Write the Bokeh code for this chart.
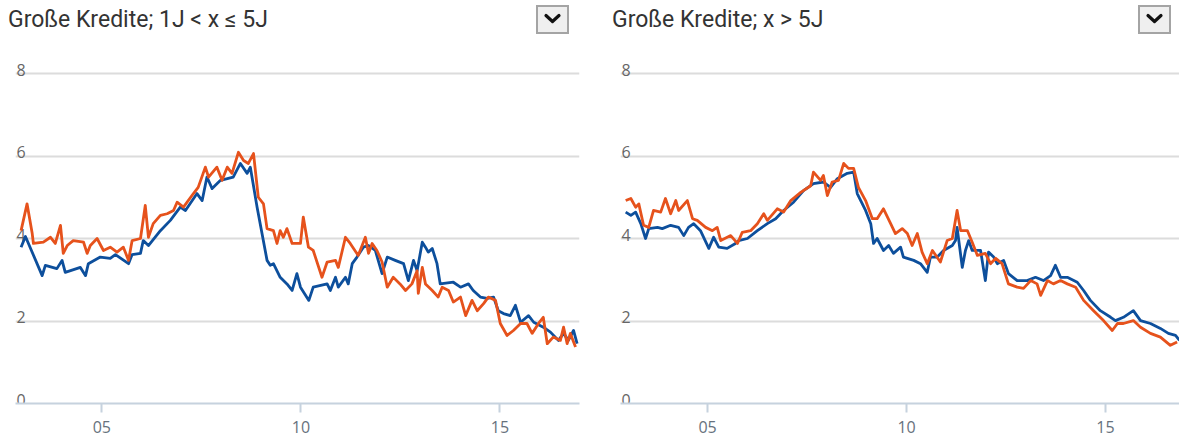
import html
from bokeh.plotting import figure
from bokeh.layouts import row, column
from bokeh.models import Div, FixedTicker, Range1d, Spacer
from bokeh.core.properties import value
from bokeh.embed import file_html
from bokeh.resources import INLINE

# ---------------- data ----------------
left_title = "Große Kredite; 1J < x ≤ 5J"
right_title = "Große Kredite; x > 5J"

ytick_values = [0, 2, 4, 6, 8]
ytick_labels = ["0", "2", "4", "6", "8"]
xtick_years = [2005, 2010, 2015]
xtick_labels = ["05", "10", "15"]

# left panel, blue series
left_blue_t = [2002.97, 2003.08, 2003.50, 2003.58, 2003.87, 2004.00, 2004.08, 2004.46, 2004.59, 2004.66,
               2004.96, 2005.21, 2005.34, 2005.67, 2005.76, 2005.97, 2006.04, 2006.17, 2006.47, 2006.72,
               2006.97, 2007.10, 2007.39, 2007.52, 2007.64, 2007.77, 2007.98, 2008.30, 2008.48, 2008.65,
               2008.73, 2008.90, 2009.15, 2009.23, 2009.31, 2009.48, 2009.65, 2009.78, 2009.90, 2009.99,
               2010.20, 2010.31, 2010.66, 2010.74, 2010.87, 2010.94, 2011.12, 2011.19, 2011.29, 2011.41,
               2011.57, 2011.70, 2011.87, 2012.04, 2012.17, 2012.37, 2012.58, 2012.70, 2012.83, 2012.92,
               2013.05, 2013.13, 2013.20, 2013.30, 2013.42, 2013.50, 2013.83, 2014.01, 2014.21, 2014.33,
               2014.51, 2014.68, 2014.84, 2014.96, 2015.09, 2015.26, 2015.39, 2015.52, 2015.72, 2015.85,
               2016.09, 2016.27, 2016.47, 2016.60, 2016.72, 2016.85, 2016.94]
left_blue_v = [3.79, 4.05, 3.10, 3.35, 3.27, 3.47, 3.18, 3.30, 3.10, 3.39,
               3.55, 3.52, 3.61, 3.39, 3.61, 3.64, 3.95, 3.83, 4.19, 4.44,
               4.76, 4.68, 5.09, 4.92, 5.49, 5.21, 5.41, 5.49, 5.82, 5.58,
               5.73, 4.76, 3.47, 3.35, 3.39, 3.06, 2.90, 2.74, 3.15, 2.82,
               2.50, 2.82, 2.90, 2.74, 3.06, 2.82, 3.06, 2.90, 3.39, 3.55,
               3.79, 3.83, 3.71, 3.15, 3.55, 3.47, 3.39, 2.98, 3.47, 3.22,
               3.91, 3.79, 3.67, 3.76, 3.39, 2.90, 2.94, 2.82, 2.90, 2.74,
               2.58, 2.55, 2.58, 2.25, 2.18, 2.13, 2.38, 1.97, 2.13, 1.97,
               1.85, 1.73, 1.53, 1.70, 1.53, 1.77, 1.45]

# left panel, orange series
left_orange_t = [2002.97, 2003.12, 2003.25, 2003.28, 2003.53, 2003.71, 2003.83, 2003.96, 2004.03, 2004.13,
                 2004.28, 2004.54, 2004.63, 2004.71, 2004.88, 2005.04, 2005.21, 2005.38, 2005.54, 2005.67,
                 2005.76, 2005.97, 2006.09, 2006.17, 2006.29, 2006.47, 2006.64, 2006.80, 2006.89, 2007.05,
                 2007.30, 2007.42, 2007.60, 2007.68, 2007.89, 2008.02, 2008.15, 2008.27, 2008.43, 2008.56,
                 2008.68, 2008.81, 2008.93, 2009.06, 2009.15, 2009.31, 2009.40, 2009.48, 2009.56, 2009.65,
                 2009.78, 2009.99, 2010.06, 2010.19, 2010.31, 2010.53, 2010.66, 2010.87, 2010.94, 2011.12,
                 2011.24, 2011.44, 2011.62, 2011.70, 2011.79, 2011.91, 2012.04, 2012.17, 2012.32, 2012.49,
                 2012.63, 2012.79, 2012.92, 2012.95, 2013.05, 2013.13, 2013.30, 2013.45, 2013.55, 2013.71,
                 2013.83, 2014.01, 2014.14, 2014.30, 2014.43, 2014.59, 2014.71, 2014.89, 2015.01, 2015.18,
                 2015.34, 2015.52, 2015.68, 2015.81, 2015.97, 2016.09, 2016.19, 2016.34, 2016.52, 2016.60,
                 2016.69, 2016.77, 2016.90]
left_orange_v = [4.19, 4.84, 4.12, 3.88, 3.91, 4.03, 3.88, 4.32, 3.64, 3.83,
                 3.95, 3.91, 3.64, 3.83, 4.00, 3.71, 3.79, 3.67, 3.79, 3.47,
                 3.95, 4.00, 4.80, 4.03, 4.36, 4.56, 4.60, 4.68, 4.88, 4.76,
                 5.09, 5.24, 5.73, 5.49, 5.73, 5.41, 5.73, 5.58, 6.09, 5.89,
                 5.82, 6.06, 5.00, 4.84, 4.24, 4.19, 3.88, 4.19, 4.03, 4.24,
                 3.88, 3.88, 4.52, 3.79, 3.71, 3.06, 3.43, 3.47, 3.30, 4.03,
                 3.88, 3.59, 4.03, 3.64, 3.88, 3.71, 3.43, 2.82, 3.06, 2.90,
                 2.74, 2.90, 3.22, 2.67, 3.30, 2.90, 2.74, 2.58, 2.82, 2.74,
                 2.46, 2.58, 2.13, 2.50, 2.25, 2.42, 2.58, 2.50, 1.94, 1.65,
                 1.77, 1.94, 1.94, 1.70, 1.94, 2.09, 1.45, 1.61, 1.53, 1.85,
                 1.45, 1.70, 1.37]

# right panel, blue series
right_blue_t = [2002.94, 2003.07, 2003.19, 2003.32, 2003.44, 2003.52, 2003.74, 2003.86, 2004.07, 2004.27,
                2004.40, 2004.52, 2004.65, 2004.82, 2005.03, 2005.15, 2005.28, 2005.49, 2005.70, 2005.78,
                2006.00, 2006.25, 2006.50, 2006.71, 2006.91, 2007.16, 2007.41, 2007.66, 2007.91, 2008.09,
                2008.26, 2008.51, 2008.67, 2008.76, 2008.97, 2009.10, 2009.17, 2009.26, 2009.42, 2009.55,
                2009.67, 2009.85, 2009.92, 2010.18, 2010.35, 2010.52, 2010.60, 2010.77, 2010.93, 2011.15,
                2011.23, 2011.27, 2011.40, 2011.48, 2011.56, 2011.65, 2011.86, 2011.98, 2012.06, 2012.19,
                2012.28, 2012.44, 2012.56, 2012.78, 2013.03, 2013.24, 2013.44, 2013.62, 2013.74, 2013.87,
                2014.04, 2014.29, 2014.45, 2014.62, 2014.87, 2015.13, 2015.25, 2015.45, 2015.70, 2015.88,
                2016.13, 2016.38, 2016.58, 2016.76, 2016.86]
right_blue_v = [4.64, 4.56, 4.64, 4.36, 4.00, 4.24, 4.27, 4.24, 4.32, 4.27,
                4.07, 4.27, 4.36, 4.19, 3.76, 4.03, 3.79, 3.76, 3.88, 3.95,
                4.00, 4.19, 4.36, 4.48, 4.68, 4.88, 5.16, 5.33, 5.37, 5.24,
                5.45, 5.58, 5.61, 5.09, 4.68, 4.36, 3.88, 4.00, 3.71, 3.83,
                3.64, 3.79, 3.55, 3.47, 3.39, 3.18, 3.55, 3.55, 3.71, 3.83,
                3.95, 4.27, 3.30, 3.71, 3.95, 3.71, 3.71, 2.98, 3.67, 3.55,
                3.39, 3.47, 3.15, 2.98, 2.98, 3.06, 2.98, 3.10, 3.35, 3.06,
                3.06, 2.94, 2.74, 2.50, 2.25, 2.09, 2.01, 2.09, 2.25, 2.01,
                1.94, 1.82, 1.70, 1.65, 1.53]

# right panel, orange series
right_orange_t = [2002.94, 2003.07, 2003.19, 2003.27, 2003.39, 2003.52, 2003.64, 2003.82, 2003.94, 2004.07,
                  2004.20, 2004.27, 2004.49, 2004.62, 2004.74, 2004.95, 2005.12, 2005.24, 2005.33, 2005.58,
                  2005.75, 2005.87, 2006.08, 2006.25, 2006.41, 2006.50, 2006.75, 2006.91, 2007.09, 2007.34,
                  2007.59, 2007.66, 2007.84, 2007.91, 2008.01, 2008.13, 2008.29, 2008.42, 2008.54, 2008.67,
                  2008.79, 2008.97, 2009.14, 2009.26, 2009.42, 2009.60, 2009.72, 2009.89, 2010.02, 2010.14,
                  2010.27, 2010.39, 2010.52, 2010.65, 2010.85, 2011.02, 2011.15, 2011.27, 2011.36, 2011.53,
                  2011.65, 2011.78, 2011.98, 2012.11, 2012.24, 2012.40, 2012.56, 2012.78, 2012.94, 2013.12,
                  2013.28, 2013.37, 2013.54, 2013.69, 2013.87, 2014.04, 2014.25, 2014.45, 2014.70, 2014.95,
                  2015.17, 2015.30, 2015.45, 2015.70, 2015.88, 2016.13, 2016.38, 2016.63, 2016.80]
right_orange_v = [4.92, 4.97, 4.76, 4.84, 4.32, 4.27, 4.68, 4.64, 4.97, 4.60,
                  4.92, 4.68, 4.92, 4.48, 4.44, 4.27, 4.19, 4.27, 3.95, 4.07,
                  3.88, 4.15, 4.19, 4.36, 4.60, 4.44, 4.72, 4.64, 4.92, 5.12,
                  5.28, 5.61, 5.41, 5.53, 5.04, 5.37, 5.41, 5.82, 5.70, 5.70,
                  5.24, 4.92, 4.48, 4.48, 4.72, 4.36, 4.12, 4.24, 4.12, 3.83,
                  4.12, 3.67, 3.39, 3.71, 3.43, 3.95, 4.00, 4.68, 4.19, 4.19,
                  3.91, 3.59, 3.64, 3.39, 3.52, 3.39, 2.90, 2.82, 2.79, 2.98,
                  2.90, 2.62, 2.98, 2.90, 2.98, 2.90, 2.82, 2.50, 2.25, 2.01,
                  1.77, 1.94, 1.94, 2.01, 1.85, 1.70, 1.61, 1.41, 1.49]

# ---------------- style ----------------
BLUE = "#0d4f9c"
ORANGE = "#e6521c"
GRID = "#dcdcdc"
AXIS = "#c6d2de"
YLAB = "#666666"
XLAB = "#67727d"

HEADER_H = 44
FIG_H = 398
Y_END = 8.558


def header(title, width, btn_gap):
    t = html.escape(title)
    svg = ('<svg width="29" height="25" style="position:absolute;left:0;top:0;">'
           '<polyline points="8,8.5 14.5,14.5 21,8.5" fill="none" stroke="#111" '
           'stroke-width="3.2" stroke-linecap="round" stroke-linejoin="round"/></svg>')
    txt = (f'<div style="position:relative;width:{width}px;height:{HEADER_H}px;">'
           f'<span style="position:absolute;left:8px;top:6px;font-family:Roboto,sans-serif;font-size:23px;'
           f'line-height:28px;color:#333333;white-space:nowrap;">{t}</span>'
           f'<span style="position:absolute;right:{btn_gap}px;top:5px;width:33px;height:29px;'
           f'box-sizing:border-box;border:2px solid #a4a4a4;background:#efefef;">{svg}</span>'
           f'</div>')
    return Div(text=txt, width=width, height=HEADER_H, margin=0)


def panel(title, bt, bv, ot, ov, width, b_left, b_right, x_start, x_end, btn_gap):
    p = figure(width=width, height=FIG_H, title=None,
               x_range=Range1d(x_start, x_end), y_range=Range1d(0, Y_END),
               y_axis_location=None, output_backend="svg", toolbar_location=None,
               min_border_left=b_left, min_border_right=b_right,
               min_border_top=6, min_border_bottom=39, margin=0)
    p.outline_line_color = None
    p.background_fill_color = "white"
    p.border_fill_color = "white"
    p.xgrid.visible = False
    p.ygrid.ticker = FixedTicker(ticks=[v for v in ytick_values if v > 0])
    p.ygrid.grid_line_color = GRID
    p.ygrid.grid_line_width = 2

    xa = p.xaxis[0]
    xa.ticker = FixedTicker(ticks=xtick_years)
    xa.major_label_overrides = dict(zip(xtick_years, xtick_labels))
    xa.axis_line_color = AXIS
    xa.axis_line_width = 2
    xa.major_tick_line_color = AXIS
    xa.major_tick_line_width = 2
    xa.major_tick_in = 0
    xa.major_tick_out = 9
    xa.minor_tick_line_color = None
    xa.major_label_standoff = 8
    xa.major_label_text_font = "Open Sans"
    xa.major_label_text_font_size = "16px"
    xa.major_label_text_color = XLAB

    p.text(x=[x_start] * len(ytick_values), y=ytick_values, text=ytick_labels,
           x_offset=1, y_offset=-4, text_baseline="alphabetic", text_align="left",
           text_font=value("Open Sans"), text_font_size="16px", text_color=YLAB)

    p.line(bt, bv, line_color=BLUE, line_width=2.8, line_join="round")
    p.line(ot, ov, line_color=ORANGE, line_width=2.8, line_join="round")

    return column(header(title, width, btn_gap), p, spacing=0)


left = panel(left_title, left_blue_t, left_blue_v, left_orange_t, left_orange_v,
             width=590, b_left=15, b_right=11, x_start=2002.83, x_end=2017.0, btn_gap=21)
right = panel(right_title, right_blue_t, right_blue_v, right_orange_t, right_orange_v,
              width=575, b_left=16, b_right=0, x_start=2002.81, x_end=2016.86, btn_gap=8)

layout = row(left, Spacer(width=14, height=10), right)

open("out.html", "w").write(file_html(layout, INLINE))
